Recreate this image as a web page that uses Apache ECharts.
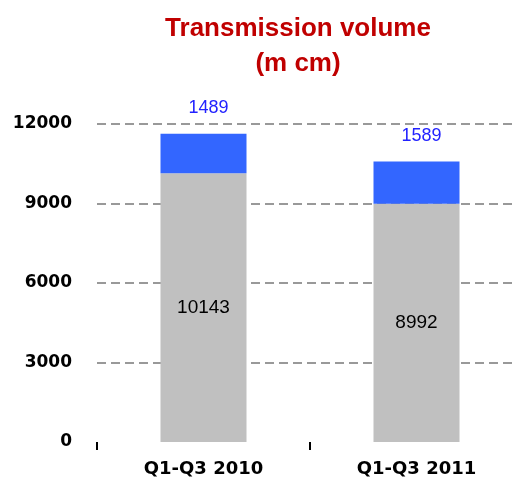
<!DOCTYPE html>
<html>
<head>
<meta charset="utf-8">
<script src="https://cdn.jsdelivr.net/npm/echarts@6/dist/echarts.min.js"></script>
<style>
html,body{margin:0;padding:0;background:#fff;overflow:hidden;}
#chart{width:523px;height:490px;}
</style>
</head>
<body>
<div id="chart"></div>
<script>
var categories = ['Q1-Q3 2010', 'Q1-Q3 2011'];
var baseValues = [10143, 8992];   // gray part
var topValues = [1489, 1589];     // blue part
var yTicks = [0, 3000, 6000, 9000, 12000];

// chart div is a bit wider than the window so the last category slot runs off the right edge
var chart = echarts.init(document.getElementById('chart'));
var option = {
	backgroundColor: '#fff',
	animation: false,
	title: {
		text: 'Transmission volume\n(m cm)',
		left: 293,
		textAlign: 'center',
		top: 6,
		textStyle: {
			color: '#c00000',
			fontFamily: 'Liberation Sans, Arial',
			fontWeight: 'bold',
			fontSize: 26,
			lineHeight: 35
		}
	},
	grid: {
		left: 97,
		top: 124,
		right: 0,
		height: 318
	},
	xAxis: {
		type: 'category',
		data: categories,
		axisLine: {show: false},
		axisTick: {
			show: true,
			length: 8,
			lineStyle: {color: '#000', width: 2}
		},
		axisLabel: {
			margin: 18,
			color: '#000',
			fontFamily: 'DejaVu Sans',
			fontWeight: 'bold',
			fontSize: 18
		}
	},
	yAxis: {
		type: 'value',
		min: yTicks[0],
		max: yTicks[yTicks.length - 1],
		interval: 3000,
		axisLine: {show: false},
		axisTick: {show: false},
		axisLabel: {
			margin: 25,
			color: '#000',
			fontFamily: 'DejaVu Sans',
			fontWeight: 'bold',
			fontSize: 17,
			formatter: function (v) { return String(v); }
		},
		splitLine: {
			show: true,
			lineStyle: {
				color: ['rgba(0,0,0,0)', '#999', '#999', '#999', '#999'],
				width: 2,
				type: [9, 5]
			}
		}
	},
	series: [
		{
			name: 'base',
			type: 'bar',
			stack: 'vol',
			barWidth: 86,
			data: baseValues,
			itemStyle: {color: '#c0c0c0'},
			label: {
				show: true,
				position: 'inside',
				color: '#000',
				fontFamily: 'Liberation Sans, Arial',
				fontSize: 19
			}
		},
		{
			name: 'top',
			type: 'bar',
			stack: 'vol',
			barWidth: 86,
			data: topValues,
			itemStyle: {color: '#3366ff'},
			label: {
				show: true,
				position: 'top',
				distance: 17,
				offset: [5, 0],
				color: '#2222ff',
				fontFamily: 'Liberation Sans, Arial',
				fontSize: 18
			}
		}
	]
};
chart.setOption(option);
</script>
</body>
</html>
